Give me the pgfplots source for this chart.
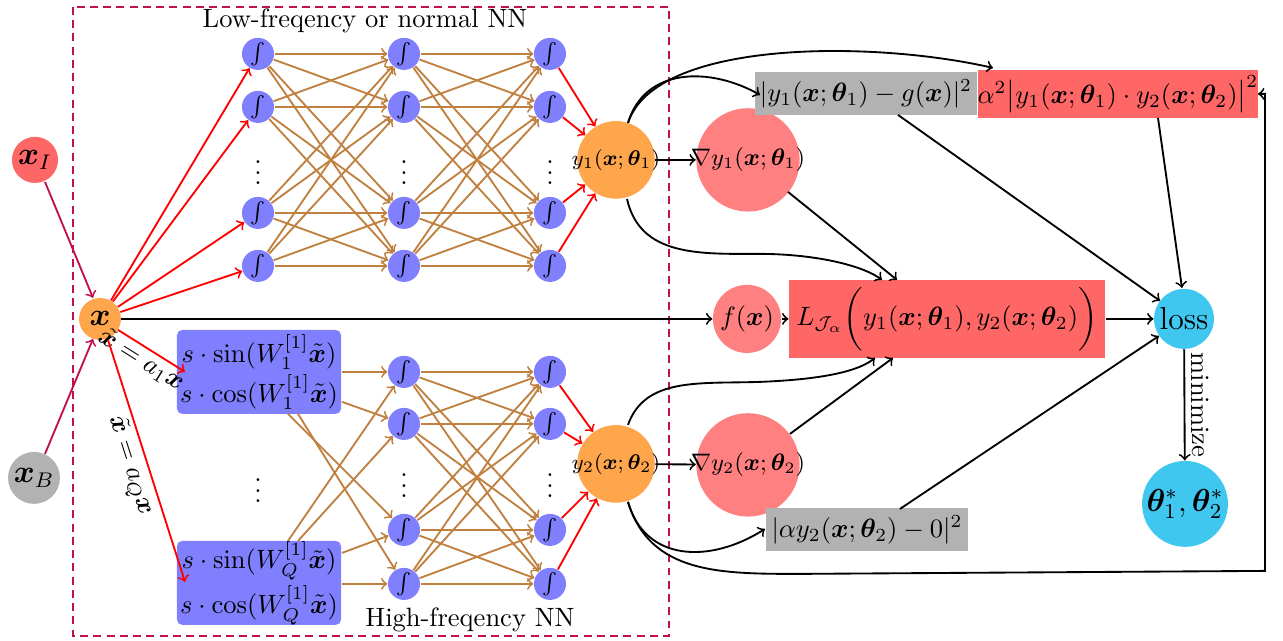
\documentclass[border=0pt]{standalone}
\usepackage{pgfplots}
\pgfplotsset{compat=1.18}
\usepackage{amsmath,amssymb,bm}
\definecolor{lossc}{RGB}{64,199,240}
\definecolor{brn}{rgb}{0.75,0.5,0.25}
\definecolor{pur}{RGB}{192,16,80}
\tikzset{
 lw/.style={line width=0.7pt},
 neu/.style={circle,fill=blue!50,minimum size=12.1pt,inner sep=0pt,font=\footnotesize},
 outn/.style={circle,fill=orange!70,minimum size=29.3pt,inner sep=0pt},
 grad/.style={circle,fill=red!50,minimum size=39pt,inner sep=0pt},
 feat/.style={rectangle,rounded corners=2pt,fill=blue!50,minimum width=61.9pt,minimum height=31.7pt,inner sep=0pt,align=center},
}
\begin{document}
\begin{tikzpicture}
\begin{axis}[x=0.3773pt,y=0.3773pt,xmin=0,xmax=1283,ymin=0,ymax=638,y dir=reverse,hide axis,clip=false]
\path (0,0) rectangle (1283,638);
% dashed frame
\draw[pur,lw,dash pattern=on 3pt off 2pt] (73,5) rectangle (669,634);
\node at (365,19) {Low-freqency or normal NN};
\node at (470,618) {High-freqency NN};
% input nodes
\node[circle,fill=red!60,minimum size=17.4pt,inner sep=0pt,font=\large] (xI) at (35,158) {$\bm{x}_I$};
\node[circle,fill=gray!60,minimum size=19.6pt,inner sep=0pt,font=\large] (xB) at (34,476) {$\bm{x}_B$};
\node[circle,fill=orange!70,minimum size=15.8pt,inner sep=0pt,font=\large] (x) at (100,317) {$\bm{x}$};
% low NN
\node[neu] (a1) at (258,52) {$\int$};
\node[neu] (a2) at (258,105) {$\int$};
\node[neu] (a3) at (258,211) {$\int$};
\node[neu] (a4) at (258,264) {$\int$};
\node[neu] (b1) at (404,52) {$\int$};
\node[neu] (b2) at (404,105) {$\int$};
\node[neu] (b3) at (404,211) {$\int$};
\node[neu] (b4) at (404,264) {$\int$};
\node[neu] (c1) at (550,52) {$\int$};
\node[neu] (c2) at (550,105) {$\int$};
\node[neu] (c3) at (550,211) {$\int$};
\node[neu] (c4) at (550,264) {$\int$};
\node at (258,163) {$\vdots$};
\node at (404,163) {$\vdots$};
\node at (550,163) {$\vdots$};
\node[outn] (y1) at (616,158) {};
\node[font=\footnotesize,inner sep=0pt] at (616,158) {$y_1(\bm{x};\bm{\theta}_1)$};
% high NN
\node[feat] (F1) at (259,370) {$s\cdot\sin(W_1^{[1]}\tilde{\bm{x}})$\\[1pt]$s\cdot\cos(W_1^{[1]}\tilde{\bm{x}})$};
\node[feat] (FQ) at (259,581) {$s\cdot\sin(W_Q^{[1]}\tilde{\bm{x}})$\\[1pt]$s\cdot\cos(W_Q^{[1]}\tilde{\bm{x}})$};
\node at (258,481) {$\vdots$};
\node[neu] (d1) at (404,370) {$\int$};
\node[neu] (d2) at (404,422) {$\int$};
\node[neu] (d3) at (404,528) {$\int$};
\node[neu] (d4) at (404,582) {$\int$};
\node[neu] (e1) at (550,370) {$\int$};
\node[neu] (e2) at (550,422) {$\int$};
\node[neu] (e3) at (550,528) {$\int$};
\node[neu] (e4) at (550,582) {$\int$};
\node at (404,476) {$\vdots$};
\node at (550,476) {$\vdots$};
\node[outn] (y2) at (616,462) {};
\node[font=\footnotesize,inner sep=0pt] at (616,462) {$y_2(\bm{x};\bm{\theta}_2)$};
\coordinate (s1) at (342,370);
\coordinate (s2) at (342,400);
\coordinate (s3) at (288,412);
\coordinate (s4) at (298,412);
\coordinate (s5) at (288,539);
\coordinate (s6) at (298,539);
\coordinate (s7) at (342,551);
\coordinate (s8) at (342,582);
% right part
\node[grad] (g1) at (748,158) {};
\node[font=\small,inner sep=0pt] at (748,158) {$\nabla y_1(\bm{x};\bm{\theta}_1)$};
\node[grad] (g2) at (748,463) {};
\node[font=\small,inner sep=0pt] at (748,463) {$\nabla y_2(\bm{x};\bm{\theta}_2)$};
\node[circle,fill=red!50,minimum size=25.7pt,inner sep=0pt] (f) at (747,317) {$f(\bm{x})$};
\node[rectangle,fill=gray!60,minimum width=83.8pt,minimum height=16.2pt,inner sep=0pt] (G1) at (866,92) {$|y_1(\bm{x};\bm{\theta}_1)-g(\bm{x})|^2$};
\node[rectangle,fill=red!60,minimum width=104.5pt,minimum height=18.1pt,inner sep=0pt] (A) at (1118,92) {$\alpha^2\big|y_1(\bm{x};\bm{\theta}_1)\cdot y_2(\bm{x};\bm{\theta}_2)\big|^2$};
\node[rectangle,fill=red!60,minimum width=119.2pt,minimum height=29.4pt,inner sep=0pt] (L) at (947,317) {$L_{\mathcal{J}_\alpha}\bigg(y_1(\bm{x};\bm{\theta}_1),y_2(\bm{x};\bm{\theta}_2)\bigg)$};
\node[rectangle,fill=gray!60,minimum width=76.2pt,minimum height=16.2pt,inner sep=0pt] (G2) at (867,528) {$|\alpha y_2(\bm{x};\bm{\theta}_2)-0|^2$};
\node[circle,fill=lossc,minimum size=22.6pt,inner sep=0pt,font=\large] (loss) at (1184,317) {loss};
\node[circle,fill=lossc,minimum size=32.4pt,inner sep=0pt,font=\large] (th) at (1185,502) {$\bm{\theta}_1^*,\bm{\theta}_2^*$};
% arrows
\draw[pur,lw,->] (45,180) -- (93,296);
\draw[pur,lw,->] (45,452) -- (93,337);
\draw[red,lw,->] (118,328) -- node[sloped,below=-3pt,black,pos=0.45] {$\tilde{\bm{x}}=a_1\bm{x}$} (185,370);
\draw[red,lw,->] (108,338) -- node[sloped,below=-2pt,black,pos=0.5] {$\tilde{\bm{x}}=a_Q\bm{x}$} (185,580);
\draw[lw,->] (x) -- (f);
\draw[lw,->] (f) -- (L);
\draw[lw,->] (y1) -- (g1);
\draw[lw,->] (y2) -- (g2);
\draw[lw,->] (628,121) .. controls (655,38) and (870,38) .. (993,66);
\draw[lw,->] (628,121) .. controls (645,65) and (710,65) .. (760,93);
\draw[lw,->] (627,197) .. controls (640,255) and (700,252) .. (760,252) .. controls (810,252) and (860,262) .. (882,278);
\draw[lw,->] (788,190) -- (897,278);
\draw[lw,->] (628,423) .. controls (645,375) and (700,382) .. (760,380) .. controls (810,378) and (855,372) .. (875,356);
\draw[lw,->] (790,432) -- (893,356);
\draw[lw,->] (628,500) .. controls (645,560) and (710,562) .. (765,527);
\draw[lw,->] (628,500) .. controls (650,572) and (720,572) .. (800,572) -- (1265,569) -- (1265,92) -- (1258,92);
\draw[lw,->] (898,113) -- (1160,299);
\draw[lw,->] (1158,116) -- (1182,286);
\draw[lw,->] (L) -- (loss);
\draw[lw,->] (900,507) -- (1159,334);
\draw[lw,->] (loss) -- node[sloped,above=-1pt] {minimize} (th);
\end{axis}
\foreach \i in {1,...,4}{
  \foreach \j in {1,...,4}{
    \draw[brn,lw,->] (a\i) -- (b\j);
    \draw[brn,lw,->] (b\i) -- (c\j);
    \draw[brn,lw,->] (d\i) -- (e\j);
  }
  \draw[red,lw,->] (x) -- (a\i);
  \draw[red,lw,->] (c\i) -- (y1);
  \draw[red,lw,->] (e\i) -- (y2);
}
\foreach \s/\t in {s1/d1,s2/d2,s3/d3,s4/d4,s5/d1,s6/d2,s7/d3,s8/d4}
  \draw[brn,lw,->] (\s) -- (\t);
\end{tikzpicture}
\end{document}
